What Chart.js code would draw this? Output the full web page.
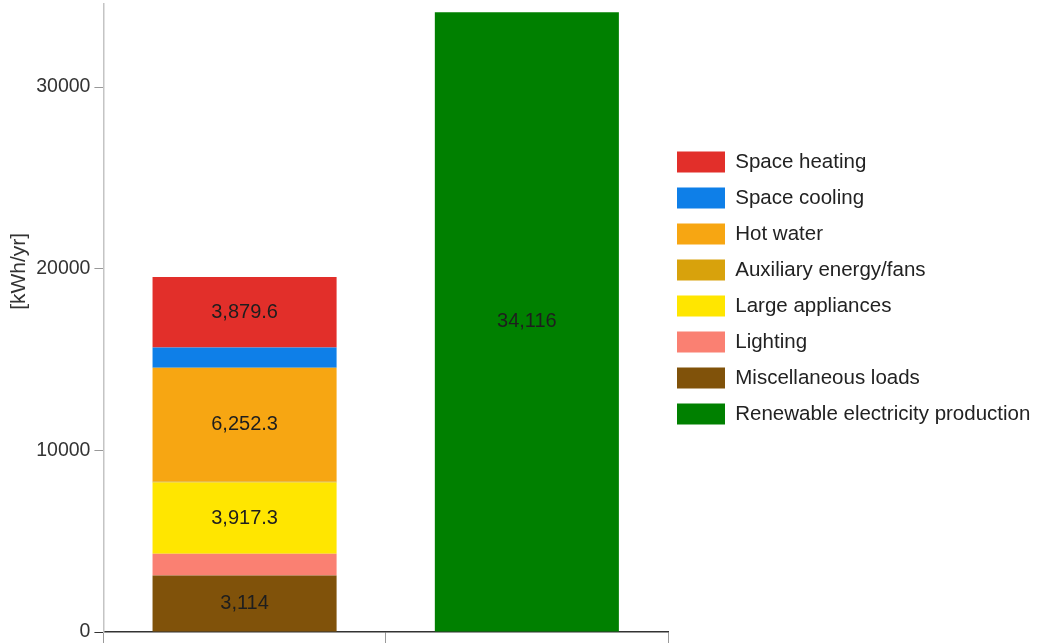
<!DOCTYPE html>
<html><head><meta charset="utf-8">
<script src="https://cdn.jsdelivr.net/npm/chart.js@4/dist/chart.umd.min.js"></script>
<style>html,body{margin:0;padding:0;background:#fff;overflow:hidden}#wrap{position:relative;width:1038px;height:643px}</style>
</head><body><div id="wrap"><canvas id="c"></canvas></div>
<script>
// ---- data ----
const categories = ['Energy consumption', 'Renewable production'];
const seriesNames = ['Renewable electricity production', 'Miscellaneous loads', 'Lighting', 'Large appliances', 'Auxiliary energy/fans', 'Hot water', 'Space cooling', 'Space heating'];
const renewableProduction = [null, 34116];
const miscellaneousLoads = [3114, null];
const lighting = [1200, null];
const largeAppliances = [3917.3, null];
const auxiliaryEnergyFans = [60, null];
const hotWater = [6252.3, null];
const spaceCooling = [1120, null];
const spaceHeating = [3879.6, null];
const yTicks = [0, 10000, 20000, 30000];
const yAxisTitle = '[kWh/yr]';
// ---- styles ----
const palette = ['#008000', '#80520a', '#fa8072', '#ffe600', '#d8a20c', '#f7a612', '#0e7fe8', '#e22f2a'];
const seriesValues = [renewableProduction, miscellaneousLoads, lighting, largeAppliances, auxiliaryEnergyFans, hotWater, spaceCooling, spaceHeating];

Chart.defaults.font.family = '"Liberation Sans", Arial, Helvetica, sans-serif';

const barLabels = {
  id: 'barLabels',
  afterDatasetsDraw(chart) {
    const ctx = chart.ctx;
    ctx.save();
    ctx.font = '20px "Liberation Sans", Arial, sans-serif';
    ctx.fillStyle = '#1e1e1e';
    ctx.textAlign = 'center';
    ctx.textBaseline = 'middle';
    chart.data.datasets.forEach((ds, i) => {
      const meta = chart.getDatasetMeta(i);
      meta.data.forEach((bar, j) => {
        const v = ds.data[j];
        if (v == null) return;
        if (Math.abs(bar.base - bar.y) < 30) return;
        ctx.fillText(v.toLocaleString('en-US'), bar.x, (bar.y + bar.base) / 2);
      });
    });
    ctx.restore();
  }
};

const legendNudge = {
  id: 'legendNudge',
  afterLayout(chart) {
    if (chart.legend) { chart.legend.left -= 6; chart.legend.right -= 6; }
  }
};

new Chart(document.getElementById('c'), {
  type: 'bar',
  data: {
    labels: categories,
    datasets: seriesNames.map((name, i) => ({
      label: name,
      data: seriesValues[i],
      backgroundColor: palette[i],
      borderWidth: 0,
      barPercentage: 0.652,
      categoryPercentage: 1.0
    }))
  },
  options: {
    responsive: true,
    maintainAspectRatio: false,
    animation: false,
    layout: { padding: { top: 4, left: 7, right: 0, bottom: 0 } },
    plugins: {
      tooltip: { enabled: false },
      legend: {
        position: 'right',
        align: 'start',
        reverse: true,
        maxWidth: 370,
        title: { display: true, text: ' ', padding: { top: 118, bottom: 0 }, font: { size: 12 } },
        labels: { boxWidth: 48, boxHeight: 21, padding: 15, color: '#222', font: { size: 20.5 } }
      }
    },
    scales: {
      x: {
        stacked: true,
        offset: true,
        ticks: { display: false },
        grid: { display: true, offset: true, drawOnChartArea: false, drawTicks: true, tickLength: 11, color: '#9a9a9a' },
        border: { display: true, color: '#333', width: 1.5 }
      },
      y: {
        stacked: true,
        min: 0,
        max: 34570,
        afterBuildTicks: s => { s.ticks = yTicks.map(v => ({ value: v })); },
        afterFit: s => { s.paddingTop = 0; s.paddingBottom = 0; },
        ticks: { padding: 4, color: '#333', font: { size: 19.5 }, callback: v => String(v) },
        grid: { drawOnChartArea: false, tickLength: 9, color: '#999', tickColor: c => (c.tick && c.tick.value === 0) ? '#333' : '#999' },
        border: { color: '#c4c4c4', width: 1.5 },
        title: { display: true, text: ' '.repeat(16) + yAxisTitle, color: '#333', font: { size: 21 }, padding: { top: 0, bottom: 0 } }
      }
    }
  },
  plugins: [barLabels, legendNudge]
});
</script>
</body></html>
